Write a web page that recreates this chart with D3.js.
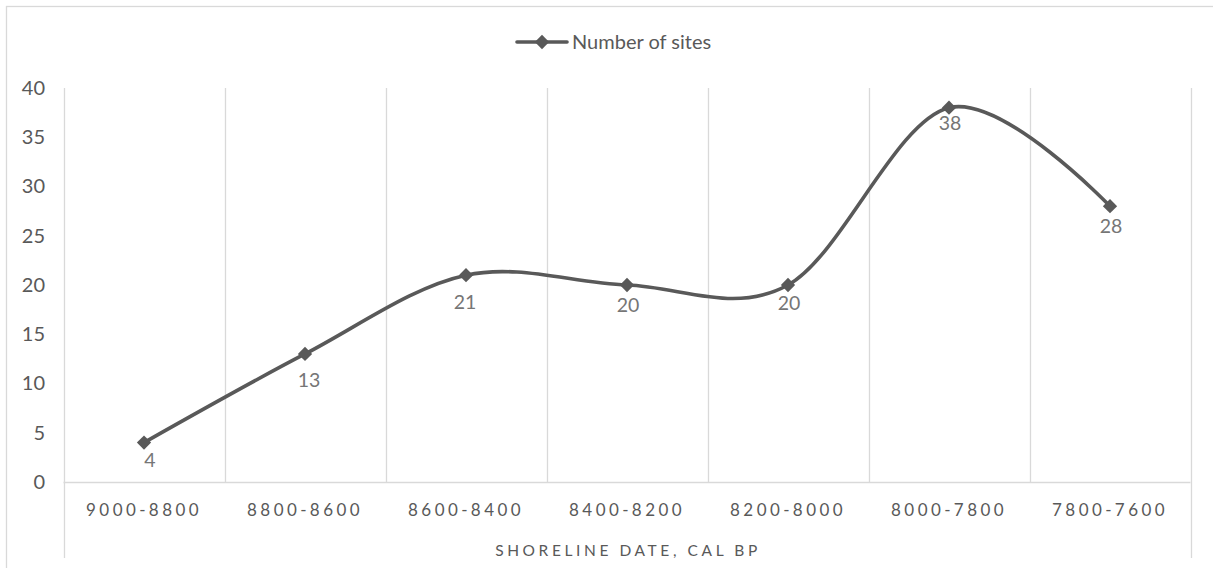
<!DOCTYPE html>
<html>
<head>
<meta charset="utf-8">
<script src="https://cdn.jsdelivr.net/npm/d3@7"></script>
<style>
  html, body { margin: 0; padding: 0; background: #fff; }
  svg { display: block; }
  text { font-family: Lato, "Open Sans", sans-serif; }
</style>
</head>
<body>
<svg id="chart" width="1213" height="568"></svg>
<script>
// Number of sites per shoreline-date interval
const categories = ["9000-8800", "8800-8600", "8600-8400", "8400-8200", "8200-8000", "8000-7800", "7800-7600"];
const siteCounts = [4, 13, 21, 20, 20, 38, 28];
const yTicks = [0, 5, 10, 15, 20, 25, 30, 35, 40];
const seriesName = "Number of sites";
const axisTitle = "SHORELINE DATE, CAL BP";

const svg = d3.select("#chart");
const W = 1213, H = 568;
const plot = { left: 63.5, right: 1190.5, top: 88, bottom: 482 };

const gridColor = "#d9d9d9";
const lineColor = "#595959";
const textColor = "#595959";
const labelColor = "#767676";

// per-label nudges (px) for the value labels under each point
const labelShiftX = [6, 4, -1, 1, 1, 1, 1];
const labelShiftY = [17, 26, 26.5, 19.5, 18, 15, 20];

// chart frame
svg.append("rect")
  .attr("x", 6.5).attr("y", 6.5)
  .attr("width", W + 20).attr("height", H + 20)
  .attr("fill", "#fff").attr("stroke", gridColor).attr("stroke-width", 1.3);

const x = d3.scaleBand().domain(categories).range([plot.left, plot.right]).padding(0);
const y = d3.scaleLinear().domain([0, 40]).range([plot.bottom, plot.top]);

// vertical gridlines at category boundaries
const bounds = categories.map(c => x(c)).concat([x(categories[categories.length - 1]) + x.bandwidth()]);
svg.append("g").selectAll("line").data(bounds).join("line")
  .attr("x1", d => Math.round(d) + 0.5).attr("x2", d => Math.round(d) + 0.5)
  .attr("y1", plot.top)
  .attr("y2", (d, i) => (i === 0 || i === bounds.length - 1) ? 558 : plot.bottom)
  .attr("stroke", gridColor).attr("stroke-width", 1.3);

// category axis line
svg.append("line")
  .attr("x1", plot.left).attr("x2", plot.right)
  .attr("y1", plot.bottom + 0.5).attr("y2", plot.bottom + 0.5)
  .attr("stroke", gridColor).attr("stroke-width", 1.3);

// value axis labels
const yAxis = d3.axisLeft(y).tickValues(yTicks).tickSize(0).tickPadding(0);
const yg = svg.append("g").attr("transform", `translate(${45},0)`).call(yAxis);
yg.select(".domain").remove();
yg.selectAll("text")
  .attr("fill", textColor).attr("font-size", 20)
  .style("font-family", "Lato, 'Open Sans', sans-serif");

// category labels
const xAxis = d3.axisBottom(x).tickSize(0).tickPadding(0);
const xg = svg.append("g").attr("transform", `translate(0,${plot.bottom})`).call(xAxis);
xg.select(".domain").remove();
xg.selectAll("text")
  .attr("y", 34).attr("dy", 0)
  .attr("fill", textColor).attr("font-size", 17)
  .attr("letter-spacing", 3.4)
  .style("font-family", "Lato, 'Open Sans', sans-serif");

// axis title
svg.append("text")
  .attr("x", (plot.left + plot.right) / 2 + 1).attr("y", 556)
  .attr("text-anchor", "middle")
  .attr("fill", textColor).attr("font-size", 15.5)
  .attr("letter-spacing", 3.6)
  .text(axisTitle);

// smoothed series line
const pts = siteCounts.map((v, i) => [x(categories[i]) + x.bandwidth() / 2, y(v)]);
const line = d3.line().curve(d3.curveCardinal.tension(0));
svg.append("path")
  .attr("d", line(pts))
  .attr("fill", "none").attr("stroke", lineColor)
  .attr("stroke-width", 3.6).attr("stroke-linecap", "round").attr("stroke-linejoin", "round");

// diamond markers
const diamond = d3.symbol().type(d3.symbolDiamond2).size(130);
svg.append("g").selectAll("path").data(pts).join("path")
  .attr("transform", d => `translate(${d[0]},${d[1]})`)
  .attr("d", diamond)
  .attr("fill", lineColor);

// data labels below points
svg.append("g").selectAll("text").data(siteCounts).join("text")
  .attr("x", (d, i) => pts[i][0] + labelShiftX[i])
  .attr("y", (d, i) => pts[i][1] + labelShiftY[i] + 7)
  .attr("text-anchor", "middle")
  .attr("fill", labelColor).attr("font-size", 19.5)
  .text(d => d);

// legend
const lg = svg.append("g").attr("transform", "translate(517,42)");
lg.append("line").attr("x1", 0).attr("x2", 50).attr("y1", 0).attr("y2", 0)
  .attr("stroke", lineColor).attr("stroke-width", 3.6).attr("stroke-linecap", "round");
lg.append("path").attr("transform", "translate(25,0)").attr("d", diamond).attr("fill", lineColor);
lg.append("text").attr("x", 55).attr("y", 0).attr("dy", "0.35em")
  .attr("fill", textColor).attr("font-size", 20)
  .text(seriesName);
</script>
</body>
</html>
